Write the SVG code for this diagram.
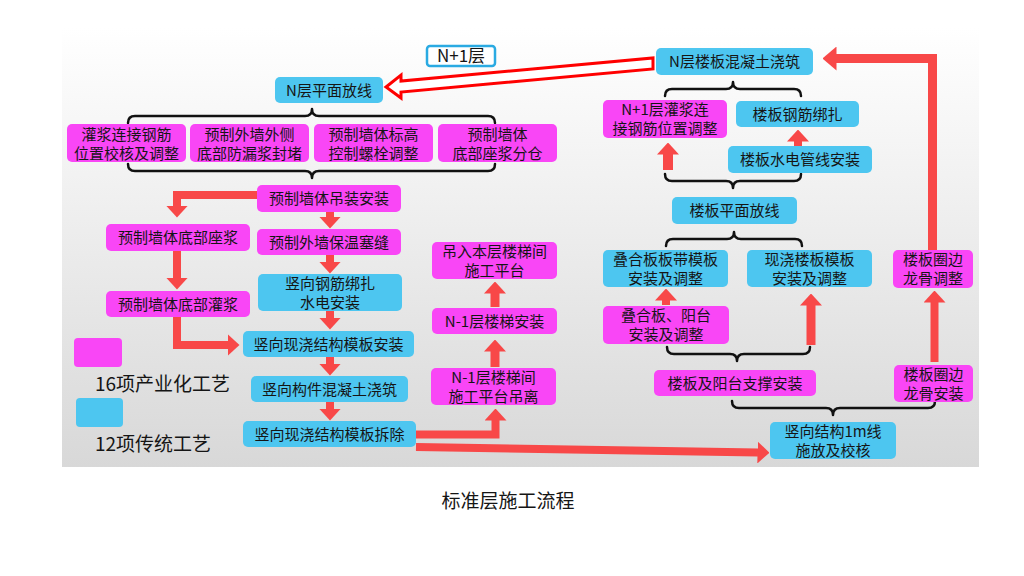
<svg xmlns="http://www.w3.org/2000/svg" width="1024" height="576" viewBox="0 0 1024 576">
<defs>
<linearGradient id="bg" x1="0" y1="0" x2="0" y2="1">
<stop offset="0" stop-color="#FFFFFF"/>
<stop offset="1" stop-color="#D8D8D8"/>
</linearGradient>
<marker id="ah" viewBox="0 0 12 22" refX="0.5" refY="11" markerWidth="12" markerHeight="22" markerUnits="userSpaceOnUse" orient="auto"><path d="M0,0 L12,11 L0,22 Z" fill="#F84848"/></marker>
<marker id="ahL" viewBox="0 0 14 24" refX="0.5" refY="12" markerWidth="14" markerHeight="24" markerUnits="userSpaceOnUse" orient="auto"><path d="M0,0 L14,12 L0,24 Z" fill="#F84848"/></marker>
<style>
text{font-family:"Noto Sans CJK SC","Noto Sans",sans-serif;font-size:15px;fill:#151515;text-anchor:middle}
.pk{fill:#F946F6}
.cy{fill:#4DC6F0}
.arr{fill:none;stroke:#F84848;stroke-width:8;stroke-linejoin:miter;marker-end:url(#ah)}
.br{fill:none;stroke:#111;stroke-width:2.5;stroke-linecap:round;stroke-linejoin:round}
.lg{font-size:19px;text-anchor:start}
</style>
</defs>
<rect width="1024" height="576" fill="#FFFFFF"/>
<rect x="62" y="28" width="917" height="439" fill="url(#bg)"/>

<g id="connectors">
<path class="arr" d="M257,195 H177 V206"/>
<path class="arr" d="M177,251 V278"/>
<path class="arr" d="M177,317 V345 H228"/>
<path class="arr" d="M330,212 V217"/>
<path class="arr" d="M330,255 V262"/>
<path class="arr" d="M330,311 V318"/>
<path class="arr" d="M330,357 V364"/>
<path class="arr" d="M330,402 V409"/>
<path class="arr" style="stroke-width:9" d="M495,367 V351"/>
<path class="arr" style="stroke-width:9" d="M495,307 V293"/>
<path class="arr" d="M416,434.5 H495.5 V420"/>
<path class="arr" d="M416,447 L758,452.5"/>
<path class="arr" d="M798,146 V141"/>
<path class="arr" style="stroke-width:10" d="M668,170 V154"/>
<path class="arr" d="M666,305 V300"/>
<path class="arr" style="stroke-width:9" d="M811,345 V305"/>
<path class="arr" d="M934.5,362 V302"/>
<path class="arr" style="stroke-width:9;marker-end:url(#ahL)" d="M932.5,250 V58.5 H836"/>
<polygon points="653,58 653,69 401,92 401,98 386,87 401,75 401,81" fill="#FFFFFF" stroke="#FF0000" stroke-width="3" stroke-linejoin="miter"/>
<path class="br" d="M128,123 Q128,116 135,116 L305,116 Q312,116 312,109 Q312,116 319,116 L488,116 Q495,116 495,123"/>
<path class="br" d="M128,164 Q128,171 135,171 L305,171 Q312,171 312,178 Q312,171 319,171 L488,171 Q495,171 495,164"/>
<path class="br" d="M665,96 Q665,89 672,89 L726,89 Q733,89 733,82 Q733,89 740,89 L794,89 Q801,89 801,96"/>
<path class="br" d="M665,174 Q665,181 672,181 L726,181 Q733,181 733,188 Q733,181 740,181 L794,181 Q801,181 801,174"/>
<path class="br" d="M666,246 Q666,239 673,239 L727,239 Q734,239 734,232 Q734,239 741,239 L795,239 Q802,239 802,246"/>
<path class="br" d="M667,347 Q667,354 674,354 L730,354 Q737,354 737,361 Q737,354 744,354 L803,354 Q810,354 810,347"/>
<path class="br" d="M732,401 Q732,408 739,408 L826,408 Q833,408 833,415 Q833,408 840,408 L928,408 Q935,408 935,401"/>
</g>

<g id="label_n1">
<rect x="427" y="46" width="68" height="20" rx="3" fill="#FFFFFF" stroke="#2AAAE2" stroke-width="2.5"/>
<text x="461" y="62" style="font-size:17px">N+1层</text>
</g>

<g id="n_plane"><rect class="cy" x="275" y="77" width="108" height="26" rx="5"/><text x="329" y="95.5">N层平面放线</text></g>
<g id="p1"><rect class="pk" x="67" y="124" width="119" height="38" rx="5"/><text x="126.5" y="139.5">灌浆连接钢筋</text><text x="126.5" y="158.5">位置校核及调整</text></g>
<g id="p2"><rect class="pk" x="190" y="124" width="119" height="38" rx="5"/><text x="249.5" y="139.5">预制外墙外侧</text><text x="249.5" y="158.5">底部防漏浆封堵</text></g>
<g id="p3"><rect class="pk" x="314" y="124" width="119" height="38" rx="5"/><text x="373.5" y="139.5">预制墙体标高</text><text x="373.5" y="158.5">控制螺栓调整</text></g>
<g id="p4"><rect class="pk" x="438" y="124" width="119" height="38" rx="5"/><text x="497.5" y="139.5">预制墙体</text><text x="497.5" y="158.5">底部座浆分仓</text></g>
<g id="lift"><rect class="pk" x="257" y="185" width="144" height="27" rx="5"/><text x="329" y="204">预制墙体吊装安装</text></g>
<g id="seat"><rect class="pk" x="106" y="224" width="144" height="27" rx="5"/><text x="178" y="243">预制墙体底部座浆</text></g>
<g id="grout"><rect class="pk" x="106" y="291" width="144" height="26" rx="5"/><text x="178" y="309.5">预制墙体底部灌浆</text></g>
<g id="seal"><rect class="pk" x="257" y="229" width="144" height="26" rx="5"/><text x="329" y="247.5">预制外墙保温塞缝</text></g>
<g id="rebar"><rect class="cy" x="258" y="274" width="144" height="37" rx="5"/><text x="330" y="288.5">竖向钢筋绑扎</text><text x="330" y="307.5">水电安装</text></g>
<g id="form"><rect class="cy" x="243" y="331" width="171" height="26" rx="5"/><text x="328.5" y="349.5">竖向现浇结构模板安装</text></g>
<g id="pour"><rect class="cy" x="251" y="376" width="157" height="26" rx="5"/><text x="329.5" y="394.5">竖向构件混凝土浇筑</text></g>
<g id="strip"><rect class="cy" x="243" y="421" width="173" height="26" rx="5"/><text x="329.5" y="439.5">竖向现浇结构模板拆除</text></g>

<g id="stair3"><rect class="pk" x="432" y="242" width="125" height="37" rx="5"/><text x="494.5" y="256.5">吊入本层楼梯间</text><text x="494.5" y="275.5">施工平台</text></g>
<g id="stair2"><rect class="pk" x="432" y="308" width="125" height="26" rx="5"/><text x="494.5" y="326.5">N-1层楼梯安装</text></g>
<g id="stair1"><rect class="pk" x="431" y="368" width="125" height="37" rx="5"/><text x="493.5" y="382.5">N-1层楼梯间</text><text x="493.5" y="401.5">施工平台吊离</text></g>

<g id="slab_pour"><rect class="cy" x="656" y="48" width="157" height="27" rx="5"/><text x="734.5" y="67">N层楼板混凝土浇筑</text></g>
<g id="n1grout"><rect class="pk" x="603" y="100" width="124" height="38" rx="5"/><text x="665" y="115">N+1层灌浆连</text><text x="665" y="134">接钢筋位置调整</text></g>
<g id="slab_rebar"><rect class="cy" x="736" y="101" width="123" height="26" rx="5"/><text x="797.5" y="119.5">楼板钢筋绑扎</text></g>
<g id="slab_mep"><rect class="cy" x="728" y="146" width="144" height="27" rx="5"/><text x="800" y="165">楼板水电管线安装</text></g>
<g id="slab_plane"><rect class="cy" x="672" y="197" width="125" height="27" rx="5"/><text x="734.5" y="216">楼板平面放线</text></g>
<g id="strip_form"><rect class="cy" x="603" y="250" width="125" height="37" rx="5"/><text x="665.5" y="264.5">叠合板板带模板</text><text x="665.5" y="283.5">安装及调整</text></g>
<g id="cast_form"><rect class="cy" x="747" y="250" width="125" height="37" rx="5"/><text x="809.5" y="264.5">现浇楼板模板</text><text x="809.5" y="283.5">安装及调整</text></g>
<g id="precast"><rect class="pk" x="603" y="306" width="126" height="38" rx="5"/><text x="666" y="321">叠合板、阳台</text><text x="666" y="340">安装及调整</text></g>
<g id="support"><rect class="pk" x="654" y="370" width="162" height="26" rx="5"/><text x="735" y="388.5">楼板及阳台支撑安装</text></g>
<g id="edge_adj"><rect class="pk" x="893" y="250" width="80" height="38" rx="5"/><text x="933" y="265">楼板圈边</text><text x="933" y="284">龙骨调整</text></g>
<g id="edge_inst"><rect class="pk" x="894" y="365" width="79" height="37" rx="5"/><text x="933.5" y="379.5">楼板圈边</text><text x="933.5" y="398.5">龙骨安装</text></g>
<g id="line1m"><rect class="cy" x="770" y="422" width="126" height="37" rx="5"/><text x="833" y="436.5">竖向结构1m线</text><text x="833" y="455.5">施放及校核</text></g>

<g id="legend">
<rect class="pk" x="74" y="338" width="48" height="29" rx="4"/>
<text class="lg" x="95" y="391">16项产业化工艺</text>
<rect class="cy" x="76" y="398" width="47" height="29" rx="4"/>
<text class="lg" x="95" y="451">12项传统工艺</text>
</g>

<g id="caption"><text x="508" y="508" style="font-size:19px">标准层施工流程</text></g>
</svg>
